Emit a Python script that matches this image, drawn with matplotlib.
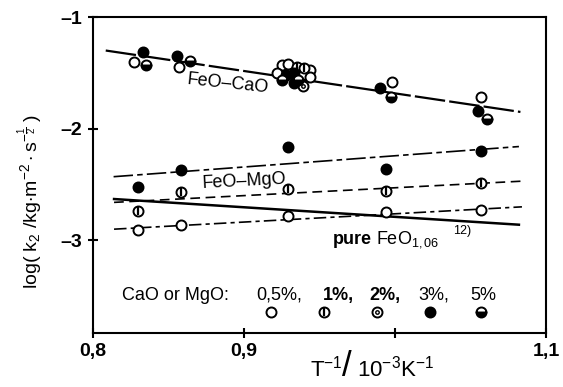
import matplotlib.pyplot as plt
import numpy as np

plt.rcParams['font.family'] = ['Liberation Sans', 'DejaVu Sans']
plt.rcParams['lines.scale_dashes'] = False
plt.rcParams['mathtext.fontset'] = 'custom'
plt.rcParams['mathtext.rm'] = 'Liberation Sans'
plt.rcParams['mathtext.it'] = 'Liberation Sans'

# FeO-CaO points, by additive content
cao_open_x = [0.827, 0.857, 0.9255, 0.929, 0.944, 0.922, 0.944, 0.998, 1.057]
cao_open_y = [-1.40, -1.45, -1.43, -1.42, -1.47, -1.50, -1.54, -1.58, -1.72]
cao_bar_x = [0.935, 0.940]
cao_bar_y = [-1.45, -1.46]
cao_dot_x = [0.939]
cao_dot_y = [-1.62]
cao_full_x = [0.8333, 0.856, 0.928, 0.933, 0.933, 0.990, 1.055]
cao_full_y = [-1.31, -1.35, -1.52, -1.50, -1.59, -1.64, -1.84]
cao_half_x = [0.835, 0.864, 0.925, 0.936, 0.997, 1.061]
cao_half_y = [-1.43, -1.39, -1.56, -1.56, -1.72, -1.91]

# FeO-MgO points
mgo_x = [0.830, 0.858, 0.929, 0.994, 1.057]
mgo_open_y = [-2.91, -2.86, -2.78, -2.75, -2.73]
mgo_bar_y = [-2.74, -2.57, -2.54, -2.56, -2.49]
mgo_full_y = [-2.52, -2.37, -2.16, -2.36, -2.20]

# fitted lines (end points)
cao_line_x = [0.8085, 1.083]
cao_line_y = [-1.30, -1.85]
mgo_full_line_x = [0.8137, 1.082]
mgo_full_line_y = [-2.43, -2.16]
mgo_bar_line_x = [0.814, 1.084]
mgo_bar_line_y = [-2.66, -2.47]
mgo_open_line_x = [0.814, 1.084]
mgo_open_line_y = [-2.90, -2.70]
pure_line_x = [0.814, 1.082]
pure_line_y = [-2.63, -2.86]

# key symbols
key_labels = ['0,5%,', '1%,', '2%,', '3%,', '5%']
key_x = [0.918, 0.953, 0.988, 1.023, 1.057]
key_y = -3.64

fig = plt.figure(figsize=(5.63, 3.87), dpi=100)
ax = fig.add_axes([0.165, 0.1395, 0.805, 0.8165])

lw = 1.4
ax.plot(cao_line_x, cao_line_y, color='black', lw=1.6, dashes=(22, 3))
ax.plot(mgo_full_line_x, mgo_full_line_y, color='black', lw=1.2, dashes=(14, 3, 4, 3))
ax.plot(mgo_bar_line_x, mgo_bar_line_y, color='black', lw=1.2, dashes=(7, 4))
ax.plot(mgo_open_line_x, mgo_open_line_y, color='black', lw=1.2, dashes=(9, 3, 3, 3))
ax.plot(pure_line_x, pure_line_y, color='black', lw=1.8)

ms = 7.2
mk = dict(ls='none', marker='o', ms=ms, mec='black', mew=lw, zorder=3)


def draw_set(x, y, kind):
    if kind == 'open':
        ax.plot(x, y, mfc='white', **mk)
    elif kind == 'bar':
        ax.plot(x, y, mfc='white', **mk)
        ax.plot(x, y, ls='none', marker='|', ms=ms * 0.75, mec='black', mew=1.6, zorder=4)
    elif kind == 'dot':
        ax.plot(x, y, mfc='white', **mk)
        ax.plot(x, y, ls='none', marker='o', ms=2.5, mfc='none', mec='black', mew=1.0, zorder=4)
    elif kind == 'full':
        ax.plot(x, y, mfc='black', **mk)
    elif kind == 'half':
        ax.plot(x, y, mfc='black', mfcalt='white', fillstyle='bottom', **mk)


draw_set(cao_open_x, cao_open_y, 'open')
draw_set(cao_bar_x, cao_bar_y, 'bar')
draw_set(cao_dot_x, cao_dot_y, 'dot')
draw_set(cao_full_x, cao_full_y, 'full')
draw_set(cao_half_x, cao_half_y, 'half')

draw_set(mgo_x, mgo_open_y, 'open')
draw_set(mgo_x, mgo_bar_y, 'bar')
draw_set(mgo_x, mgo_full_y, 'full')

for x, kind in zip(key_x, ['open', 'bar', 'dot', 'full', 'half']):
    draw_set([x], [key_y], kind)

# labels inside the plot
ax.text(0.8895, -1.60, 'FeO\u2013CaO', fontsize=13, rotation=-6, ha='center', va='center')
ax.text(0.9, -2.47, 'FeO\u2013MgO', fontsize=13, rotation=3, ha='center', va='center')
ax.text(0.9585, -2.99, 'pure', fontsize=13, fontweight='bold', ha='left', va='center')
ax.text(0.9875, -2.99, r'FeO$_{1,06}$', fontsize=13, ha='left', va='center')
ax.text(1.0386, -2.92, '12)', fontsize=9, ha='left', va='center')

ty = 0.120
ax.text(0.064, ty, 'CaO or MgO:', fontsize=13, transform=ax.transAxes, va='center')
key_pos = [0.360, 0.508, 0.611, 0.717, 0.832]
key_bold = [False, True, True, False, False]
for lab, px, b in zip(key_labels, key_pos, key_bold):
    ax.text(px, ty, lab, fontsize=13, fontweight='bold' if b else 'normal',
            transform=ax.transAxes, va='center')

ax.set_xlim(0.8, 1.098)
ax.set_ylim(-3.83, -1.0)
ax.set_xticks([0.8, 0.9, 1.0, 1.1])
ax.set_xticklabels(['0,8', '0,9', '', '1,1'], fontsize=14, fontweight='bold')
ax.set_yticks([-1, -2, -3])
ax.set_yticklabels(['\u20131', '\u20132', '\u20133'], fontsize=14, fontweight='bold')
ax.tick_params(direction='inout', length=7, width=1.5, pad=4)
for s in ax.spines.values():
    s.set_linewidth(1.5)

fig.text(0.055, 0.48, r'log( k$_2$ /kg$\cdot$m$^{-2}\cdot$s$^{-\frac{1}{2}}$ )',
         fontsize=14, rotation=90, ha='center', va='center')

# x axis label with a large slash
fig.text(0.551, 0.048, r'T$^{-1}$', fontsize=16, ha='left', va='center')
fig.text(0.607, 0.052, '/', fontsize=25, ha='left', va='center')
fig.text(0.634, 0.048, r'10$^{-3}$K$^{-1}$', fontsize=16, ha='left', va='center')

fig.savefig('out.png', dpi=100)
